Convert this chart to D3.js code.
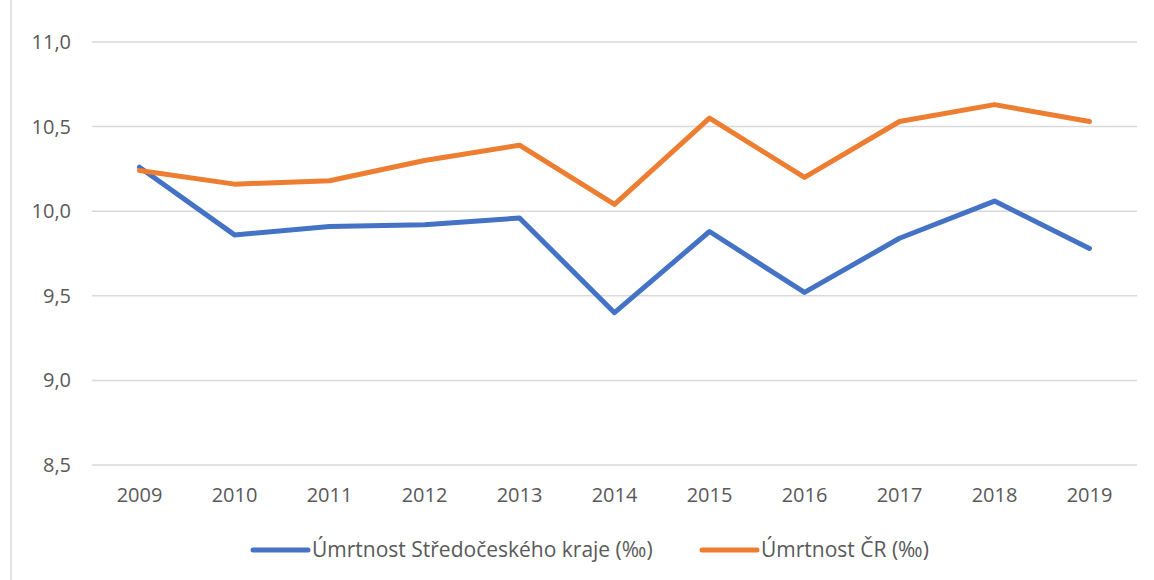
<!DOCTYPE html>
<html>
<head>
<meta charset="utf-8">
<script src="https://cdn.jsdelivr.net/npm/d3@7"></script>
<style>
  body { margin: 0; background: #fff; }
  svg { display: block; font-family: "Open Sans", sans-serif; }
</style>
</head>
<body>
<div id="chart"></div>
<script>
const years = ["2009", "2010", "2011", "2012", "2013", "2014", "2015", "2016", "2017", "2018", "2019"];
const stredocesky = [10.26, 9.86, 9.91, 9.92, 9.96, 9.40, 9.88, 9.52, 9.84, 10.06, 9.78];
const cr = [10.24, 10.16, 10.18, 10.30, 10.39, 10.04, 10.55, 10.20, 10.53, 10.63, 10.53];
const yTicks = [8.5, 9.0, 9.5, 10.0, 10.5, 11.0];
const seriesNames = ["Úmrtnost Středočeského kraje (‰)", "Úmrtnost ČR (‰)"];

const W = 1154, H = 580;
const margin = { top: 42, right: 17, bottom: 115, left: 92 };
const width = W - margin.left - margin.right;
const height = H - margin.top - margin.bottom;

const svg = d3.select("#chart").append("svg")
    .attr("width", W)
    .attr("height", H);

// chart border on the left
svg.append("line")
    .attr("x1", 11).attr("x2", 11)
    .attr("y1", 0).attr("y2", H)
    .attr("stroke", "#d9d9d9")
    .attr("stroke-width", 1.5);

const g = svg.append("g")
    .attr("transform", `translate(${margin.left},${margin.top})`);

const x = d3.scaleBand()
    .domain(years)
    .range([0, width]);

const y = d3.scaleLinear()
    .domain([8.5, 11.0])
    .range([height, 0]);

const fmt = v => d3.format(".1f")(v).replace(".", ",");

// gridlines
g.append("g")
    .selectAll("line")
    .data(yTicks)
    .join("line")
    .attr("x1", 0).attr("x2", width)
    .attr("y1", d => y(d)).attr("y2", d => y(d))
    .attr("stroke", "#d9d9d9")
    .attr("stroke-width", 1.5);

// y axis labels
const yAxis = g.append("g")
    .call(d3.axisLeft(y).tickValues(yTicks).tickFormat(fmt).tickSize(0).tickPadding(21));
yAxis.select(".domain").remove();
yAxis.selectAll("text")
    .attr("fill", "#595959")
    .style("font-size", "20px")
    .style("font-family", "Open Sans, sans-serif");

// x axis labels
const xAxis = g.append("g")
    .attr("transform", `translate(0,${height})`)
    .call(d3.axisBottom(x).tickSize(0).tickPadding(23));
xAxis.select(".domain").remove();
xAxis.selectAll("text")
    .attr("fill", "#595959")
    .style("font-size", "20px")
    .style("font-family", "Open Sans, sans-serif");

const line = d3.line()
    .x((d, i) => x(years[i]) + x.bandwidth() / 2)
    .y(d => y(d));

const colors = ["#4472C4", "#ED7D31"];

[stredocesky, cr].forEach((vals, i) => {
    g.append("path")
        .datum(vals)
        .attr("fill", "none")
        .attr("stroke", colors[i])
        .attr("stroke-width", 5)
        .attr("stroke-linejoin", "round")
        .attr("stroke-linecap", "round")
        .attr("d", line);
});

// legend
const legendY = 550;
const legendX = [253, 702];
seriesNames.forEach((name, i) => {
    const lg = svg.append("g").attr("transform", `translate(${legendX[i]},${legendY})`);
    lg.append("line")
        .attr("x1", 0).attr("x2", 55)
        .attr("y1", 0).attr("y2", 0)
        .attr("stroke", colors[i])
        .attr("stroke-width", 5)
        .attr("stroke-linecap", "round");
    lg.append("text")
        .attr("x", 59)
        .attr("y", 0)
        .attr("dy", "0.35em")
        .attr("fill", "#595959")
        .style("font-size", "21px")
        .text(name);
});
</script>
</body>
</html>
